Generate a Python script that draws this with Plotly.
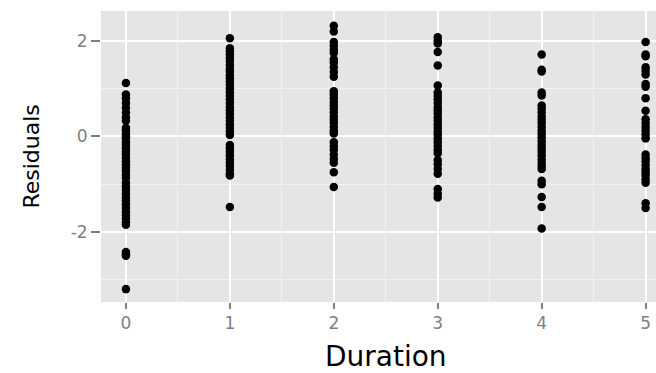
import plotly.graph_objects as go

durations = [0, 1, 2, 3, 4, 5]
res_0 = [1.12, 0.88, 0.80, 0.70, 0.60, 0.50, 0.40, 0.33, 0.18, 0.12, 0.05, 0.0, -0.05, -0.12,
         -0.18, -0.25, -0.32, -0.38, -0.45, -0.52, -0.58, -0.65, -0.72, -0.80, -0.87, -0.97,
         -1.05, -1.12, -1.20, -1.28, -1.35, -1.42, -1.50, -1.58, -1.65, -1.72, -1.80, -1.85,
         -2.42, -2.47, -2.50, -3.2]
res_1 = [2.06, 1.85, 1.78, 1.72, 1.65, 1.58, 1.50, 1.42, 1.36, 1.28, 1.22, 1.15, 1.08, 1.0,
         0.92, 0.85, 0.78, 0.70, 0.62, 0.55, 0.48, 0.40, 0.33, 0.25, 0.18, 0.10, 0.03, -0.18,
         -0.25, -0.32, -0.40, -0.48, -0.55, -0.62, -0.70, -0.78, -0.82, -1.48]
res_2 = [2.32, 2.20, 1.98, 1.90, 1.82, 1.75, 1.62, 1.55, 1.45, 1.35, 1.25, 0.95, 0.88, 0.80,
         0.72, 0.65, 0.58, 0.50, 0.42, 0.35, 0.28, 0.20, 0.12, 0.06, -0.12, -0.20, -0.28,
         -0.38, -0.47, -0.55, -0.75, -1.06]
res_3 = [2.08, 2.0, 1.95, 1.77, 1.49, 1.07, 0.92, 0.85, 0.78, 0.70, 0.62, 0.55, 0.48, 0.40,
         0.33, 0.25, 0.18, 0.10, 0.03, -0.05, -0.12, -0.20, -0.28, -0.35, -0.50, -0.58,
         -0.68, -0.78, -1.10, -1.20, -1.28]
res_4 = [1.72, 1.40, 1.36, 0.92, 0.86, 0.65, 0.58, 0.50, 0.42, 0.35, 0.28, 0.20, 0.12, 0.05,
         -0.02, -0.10, -0.18, -0.25, -0.32, -0.40, -0.48, -0.55, -0.62, -0.68, -0.93, -1.0,
         -1.27, -1.48, -1.93]
res_5 = [1.98, 1.72, 1.68, 1.45, 1.38, 1.30, 1.10, 1.04, 0.80, 0.54, 0.36, 0.28, 0.20, 0.12,
         0.04, -0.04, -0.38, -0.45, -0.52, -0.60, -0.68, -0.75, -0.82, -0.90, -0.97, -1.40,
         -1.50]
residuals = [res_0, res_1, res_2, res_3, res_4, res_5]
y_ticks = [-2, 0, 2]

xs, ys = [], []
for d, r in zip(durations, residuals):
    xs += [d] * len(r)
    ys += r

fig = go.Figure(go.Scatter(x=xs, y=ys, mode="markers",
                           marker=dict(color="black", size=8.5, line=dict(width=0))))

font = "DejaVu Sans, Arial, sans-serif"
fig.update_layout(
    width=656, height=373,
    margin=dict(l=101, r=0, t=11, b=71),
    paper_bgcolor="white", plot_bgcolor="#E5E5E5",
    showlegend=False,
    font=dict(family=font),
    annotations=[
        dict(text="Duration", x=2.5, xref="x", y=-0.186, yref="paper",
             showarrow=False, yanchor="middle", xanchor="center",
             font=dict(size=28, color="black", family=font)),
        dict(text="Residuals", x=-0.126, xref="paper", y=0.5, yref="paper",
             showarrow=False, yanchor="middle", xanchor="center", textangle=-90,
             font=dict(size=22, color="black", family=font)),
    ],
)
fig.update_xaxes(range=[-0.24, 5.1], tickvals=durations, ticktext=[str(d) for d in durations],
                 showgrid=True, gridcolor="white", gridwidth=2, zeroline=False,
                 ticks="outside", ticklen=6, tickcolor="#7F7F7F", tickwidth=1.5,
                 tickfont=dict(size=17, color="#7F7F7F"),
                 minor=dict(dtick=0.5, tick0=0.5, showgrid=True, gridcolor="#F2F2F2", gridwidth=1),
                 showline=False)
fig.update_yaxes(range=[-3.47, 2.63], tickvals=y_ticks, ticktext=[str(v) for v in y_ticks],
                 showgrid=True, gridcolor="white", gridwidth=1.6, zeroline=False,
                 ticks="outside", ticklen=9, tickcolor="#7F7F7F", tickwidth=1.5,
                 tickfont=dict(size=17, color="#7F7F7F"),
                 minor=dict(dtick=1, tick0=1, showgrid=True, gridcolor="#F2F2F2", gridwidth=1),
                 showline=False)

fig.write_html("out.html")
